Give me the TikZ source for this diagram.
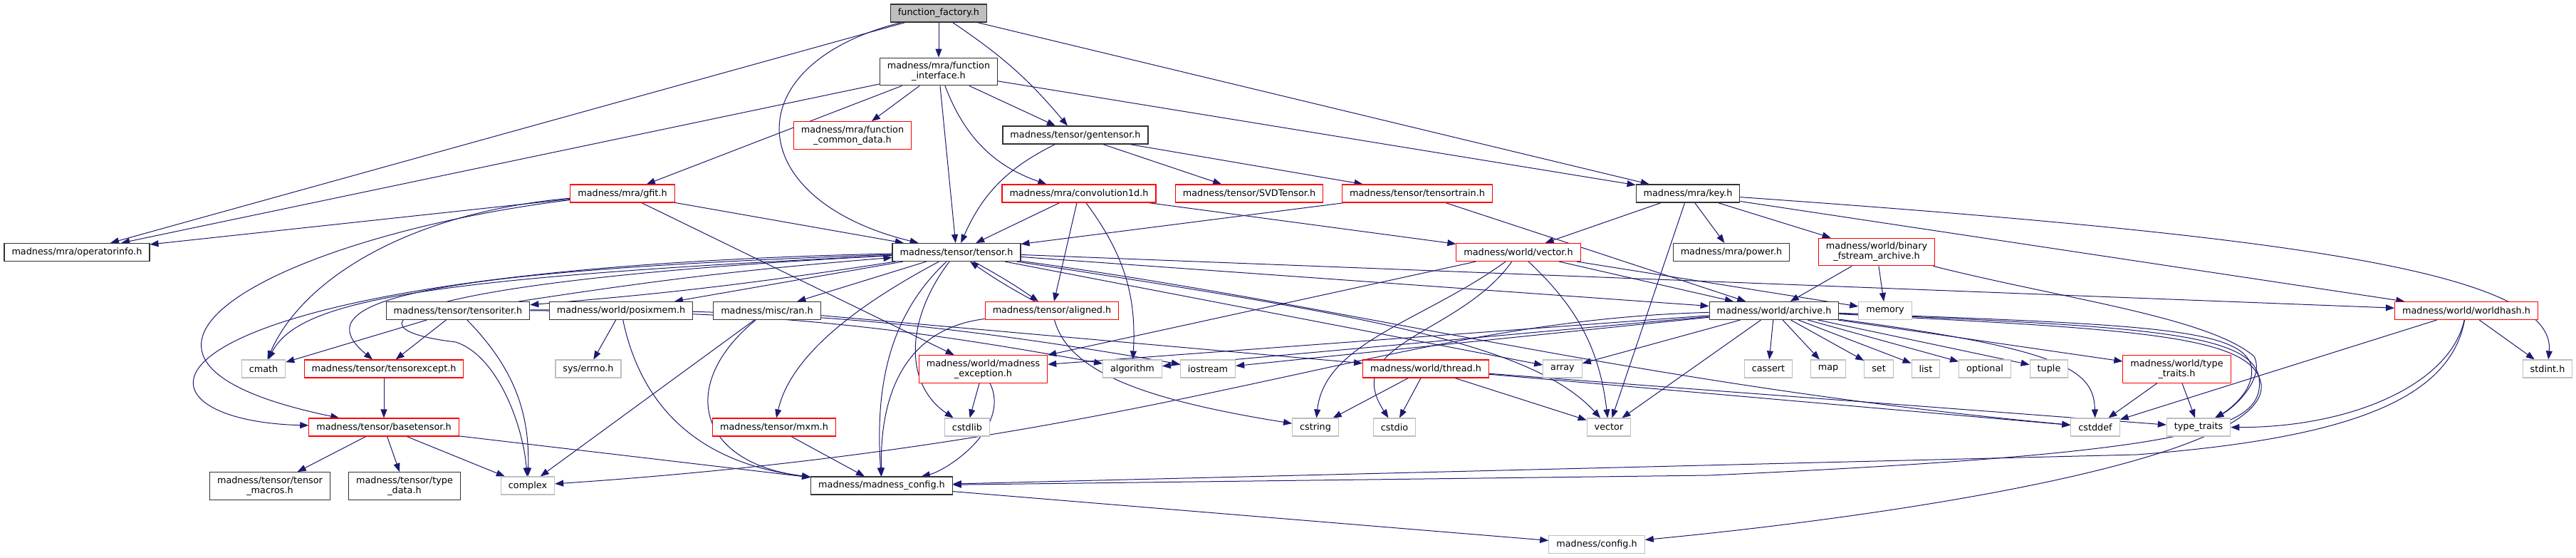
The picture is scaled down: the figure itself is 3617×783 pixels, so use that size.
\documentclass[tikz,border=0pt]{standalone}
\usepackage{fontspec}
\setmainfont{DejaVu Sans}
\usetikzlibrary{arrows.meta}
\definecolor{edgeblue}{RGB}{25,25,112}
\definecolor{boxgray}{RGB}{191,191,191}
\pgfdeclarelayer{background}
\pgfsetlayers{background,main}

\begin{document}
\begin{tikzpicture}[x=1pt, y=-1pt,
    hdr/.style={rectangle, draw=black!80, line width=1.1pt, fill=white, inner xsep=10.5pt, inner ysep=6pt, minimum height=25pt, align=center, font=\fontsize{12.8}{14}\selectfont},
    hdr_root/.style={hdr, fill=boxgray},
    hdr_trunc/.style={hdr, draw=red},
    hdr_sys/.style={hdr, draw=boxgray},
    arr/.style={-{Triangle[length=12pt,width=9pt]}, line width=1pt, draw=edgeblue}
]
\useasboundingbox (0,0) rectangle (3617,783);

% top rows
\node[hdr_root] (ff) at (1318,18.5) {function\_factory.h};
\node[hdr] (fi) at (1318,100.5) {madness/mra/function\\\_interface.h};
\node[hdr_trunc] (fcd) at (1197,190) {madness/mra/function\\\_common\_data.h};
\node[hdr] (gten) at (1510,189.5) {madness/tensor/gentensor.h};
\node[hdr] (key) at (2370,271.5) {madness/mra/key.h};
\node[hdr_trunc] (gfit) at (874,271.5) {madness/mra/gfit.h};
\node[hdr_trunc] (conv) at (1515,271.5) {madness/mra/convolution1d.h};
\node[hdr_trunc] (svd) at (1754,271.5) {madness/tensor/SVDTensor.h};
\node[hdr_trunc] (ttrain) at (1990,271.5) {madness/tensor/tensortrain.h};

% tensor row
\node[hdr] (opinfo) at (108,354) {madness/mra/operatorinfo.h};
\node[hdr] (tensor) at (1343,354) {madness/tensor/tensor.h};
\node[hdr_trunc] (wvec) at (2132,354) {madness/world/vector.h};
\node[hdr] (power) at (2431,354) {madness/mra/power.h};
\node[hdr_trunc] (bfa) at (2635,353.5) {madness/world/binary\\\_fstream\_archive.h};

% row 5
\node[hdr] (titer) at (643,436) {madness/tensor/tensoriter.h};
\node[hdr] (posix) at (872,436) {madness/world/posixmem.h};
\node[hdr] (ran) at (1077,436) {madness/misc/ran.h};
\node[hdr_trunc] (aligned) at (1477,436) {madness/tensor/aligned.h};
\node[hdr] (archive) at (2491,436) {madness/world/archive.h};
\node[hdr_sys] (memory) at (2647,436) {memory};
\node[hdr_trunc] (whash) at (3463,436) {madness/world/worldhash.h};

% row 6
\node[hdr_sys] (cmath) at (370,517.5) {cmath};
\node[hdr_trunc] (texc) at (539,517.5) {madness/tensor/tensorexcept.h};
\node[hdr_sys] (errno) at (826,517.5) {sys/errno.h};
\node[hdr_trunc] (mexc) at (1380.5,518) {madness/world/madness\\\_exception.h};
\node[hdr_sys] (algo) at (1590,517.5) {algorithm};
\node[hdr_sys] (iostr) at (1696,517.5) {iostream};
\node[hdr_trunc] (thread) at (2002,517.5) {madness/world/thread.h};
\node[hdr_sys] (array) at (2194,517.5) {array};
\node[hdr_sys] (cassert) at (2483,517.5) {cassert};
\node[hdr_sys] (map) at (2567,517.5) {map};
\node[hdr_sys] (set) at (2638,517.5) {set};
\node[hdr_sys] (list) at (2704,517.5) {list};
\node[hdr_sys] (optional) at (2787,517.5) {optional};
\node[hdr_sys] (tuple) at (2877,517.5) {tuple};
\node[hdr_trunc] (wtt) at (3056.5,518) {madness/world/type\\\_traits.h};
\node[hdr_sys] (stdint) at (3577,517.5) {stdint.h};

% row 7
\node[hdr_trunc] (btensor) at (539,599.5) {madness/tensor/basetensor.h};
\node[hdr_trunc] (mxm) at (1087,599.5) {madness/tensor/mxm.h};
\node[hdr_sys] (cstdlib) at (1358,599.5) {cstdlib};
\node[hdr_sys] (cstring) at (1847,599.5) {cstring};
\node[hdr_sys] (cstdio) at (1958,599.5) {cstdio};
\node[hdr_sys] (vector) at (2259,599.5) {vector};
\node[hdr_sys] (cstddef) at (2942,599.5) {cstddef};
\node[hdr_sys] (tt) at (3087,599.5) {type\_traits};

% bottom rows
\node[hdr] (tmacros) at (379,682) {madness/tensor/tensor\\\_macros.h};
\node[hdr] (tdata) at (568,682) {madness/tensor/type\\\_data.h};
\node[hdr_sys] (complex) at (741,681.5) {complex};
\node[hdr] (mconf) at (1238,681.5) {madness/madness\_config.h};
\node[hdr_sys] (config) at (2242,764) {madness/config.h};

\begin{pgfonlayer}{background}
% function_factory.h
\draw[arr] (ff) -- (fi);
\draw[arr] (ff) -- (opinfo);
\draw[arr] (ff) .. controls (1030,90) and (1040,280) .. (tensor);
\draw[arr] (ff) to[bend left=8] (gten);
\draw[arr] (ff) -- (key);
% function_interface.h
\draw[arr] (fi) -- (fcd);
\draw[arr] (fi) -- (tensor);
\draw[arr] (fi) to[bend right=25] (conv);
\draw[arr] (fi) -- (gten);
\draw[arr] (fi) -- (key);
\draw[arr] (fi) -- (opinfo);
\draw[arr] (fi) -- (gfit);
% gentensor.h
\draw[arr] (gten) to[bend right=20] (tensor);
\draw[arr] (gten) -- (svd);
\draw[arr] (gten) -- (ttrain);
% gfit.h
\draw[arr] (gfit) -- (opinfo);
\draw[arr] (gfit) -- (tensor);
\draw[arr] (gfit) .. controls (560,300) and (420,400) .. (cmath);
\draw[arr] (gfit) .. controls (400,330) and (60,500) .. (btensor);
\draw[arr] (gfit) -- (mexc);
% convolution1d.h
\draw[arr] (conv) -- (tensor);
\draw[arr] (conv) -- (aligned);
\draw[arr] (conv) to[bend left=20] (algo);
\draw[arr] (conv) -- (wvec);
% tensortrain.h
\draw[arr] (ttrain) -- (tensor);
\draw[arr] (ttrain) -- (archive);
% key.h
\draw[arr] (key) -- (wvec);
\draw[arr] (key) -- (vector);
\draw[arr] (key) -- (power);
\draw[arr] (key) -- (bfa);
\draw[arr] (key) -- (whash);
\draw[arr] (key) .. controls (3200,330) and (3590,380) .. (stdint);
% binary_fstream_archive.h
\draw[arr] (bfa) -- (archive);
\draw[arr] (bfa) -- (memory);
\draw[arr] (bfa) .. controls (2900,420) and (3100,445) .. (3165,500) .. controls (3180,530) and (3140,570) .. (tt);
% tensor.h
\draw[arr] (tensor) to[bend left=2] (titer);
\draw[arr] (titer) to[bend left=2] (tensor);
\draw[arr] (tensor) to[bend left=3] (aligned);
\draw[arr] (aligned) to[bend left=3] (tensor);
\draw[arr] (tensor) -- (posix);
\draw[arr] (tensor) -- (ran);
\draw[arr] (tensor) .. controls (600,390) and (420,420) .. (cmath);
\draw[arr] (tensor) .. controls (600,380) and (420,420) .. (texc);
\draw[arr] (tensor) .. controls (150,380) and (150,590) .. (btensor);
\draw[arr] (tensor) .. controls (550,395) and (470,460) .. (640,480) .. controls (700,500) and (735,600) .. (complex);
\draw[arr] (tensor) .. controls (1240,450) and (1230,560) .. (mconf);
\draw[arr] (tensor) .. controls (1200,430) and (1110,500) .. (mxm);
\draw[arr] (tensor) .. controls (1270,450) and (1270,540) .. (cstdlib);
\draw[arr] (tensor) -- (archive);
\draw[arr] (tensor) -- (whash);
\draw[arr] (tensor) -- (array);
\draw[arr] (tensor) .. controls (1900,440) and (2150,480) .. (vector);
\draw[arr] (tensor) .. controls (1900,430) and (2300,540) .. (cstddef);
% vector.h
\draw[arr] (wvec) -- (archive);
\draw[arr] (wvec) -- (memory);
\draw[arr] (wvec) -- (mexc);
\draw[arr] (wvec) to[bend left=20] (vector);
\draw[arr] (wvec) .. controls (2000,450) and (1860,480) .. (cstring);
\draw[arr] (wvec) .. controls (2050,470) and (1880,480) .. (cstdio);
% tensoriter.h
\draw[arr] (titer) -- (cmath);
\draw[arr] (titer) -- (texc);
\draw[arr] (titer) to[bend left=23] (complex);
\draw[arr] (titer) to[bend left=5] (algo);
\draw[arr] (titer) to[bend left=5] (iostr);
% ran.h, posixmem.h, aligned.h
\draw[arr] (ran) -- (complex);
\draw[arr] (ran) .. controls (950,540) and (980,650) .. (mconf);
\draw[arr] (ran) -- (thread);
\draw[arr] (posix) -- (errno);
\draw[arr] (posix) .. controls (900,570) and (980,650) .. (mconf);
\draw[arr] (aligned) .. controls (1280,460) and (1235,540) .. (mconf);
\draw[arr] (aligned) .. controls (1500,520) and (1600,560) .. (cstring);
% madness_exception.h, thread.h
\draw[arr] (mexc) -- (cstdlib);
\draw[arr] (mexc) .. controls (1420,600) and (1330,660) .. (mconf);
\draw[arr] (thread) -- (cstring);
\draw[arr] (thread) -- (cstdio);
\draw[arr] (thread) -- (vector);
\draw[arr] (thread) -- (tt);
\draw[arr] (thread) -- (cstddef);
% archive.h
\draw[arr] (archive) -- (cassert);
\draw[arr] (archive) -- (map);
\draw[arr] (archive) -- (set);
\draw[arr] (archive) -- (list);
\draw[arr] (archive) -- (optional);
\draw[arr] (archive) -- (tuple);
\draw[arr] (archive) -- (wtt);
\draw[arr] (archive) -- (vector);
\draw[arr] (archive) -- (array);
\draw[arr] (archive) -- (algo);
\draw[arr] (archive) -- (iostr);
\draw[arr] (archive) -- (mexc);
\draw[arr] (archive) .. controls (2900,490) and (2940,520) .. (cstddef);
\draw[arr] (archive) .. controls (1950,450) and (1650,620) .. (complex);
\draw[arr] (archive) .. controls (3000,455) and (3140,460) .. (3160,510) .. controls (3170,545) and (3130,575) .. (tt);
\draw[arr] (archive) .. controls (3000,458) and (3160,465) .. (3172,530) .. controls (3180,600) and (3100,635) .. (2400,667) -- (mconf);
\draw[arr] (archive) .. controls (3000,462) and (3165,470) .. (3175,540) .. controls (3185,640) and (2700,720) .. (config);
% worldhash.h, type_traits.h
\draw[arr] (whash) -- (stdint);
\draw[arr] (whash) -- (cstddef);
\draw[arr] (whash) .. controls (3440,540) and (3300,600) .. (tt);
\draw[arr] (whash) .. controls (3440,560) and (3300,615) .. (3000,638) -- (mconf);
\draw[arr] (wtt) -- (cstddef);
\draw[arr] (wtt) -- (tt);
% basetensor.h and the rest
\draw[arr] (texc) -- (btensor);
\draw[arr] (btensor) -- (tmacros);
\draw[arr] (btensor) -- (tdata);
\draw[arr] (btensor) -- (complex);
\draw[arr] (btensor) -- (mconf);
\draw[arr] (mxm) -- (mconf);
\draw[arr] (mconf) -- (config);
\end{pgfonlayer}

\end{tikzpicture}
\end{document}
